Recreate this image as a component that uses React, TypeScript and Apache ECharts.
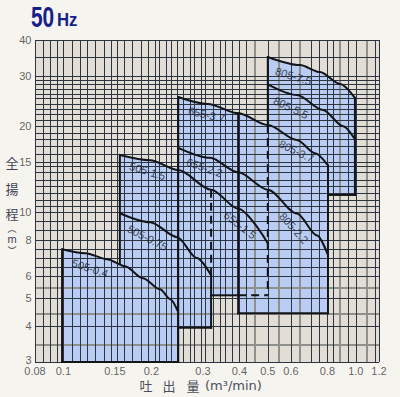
import React, { useEffect, useRef } from "react";
import * as echarts from "echarts";

const X_MIN = 0.08;
const X_MAX = 1.2;
const Y_MIN = 3;
const Y_MAX = 40;

// tick labels
const xTickLabels = ["0.08", "0.1", "0.15", "0.2", "0.3", "0.4", "0.5", "0.6", "0.8", "1.0", "1.2"];
const yTickLabels = ["3", "4", "5", "6", "8", "10", "15", "20", "30", "40"];

// grid rulings (flow m3/min, head m)
const xGridDark = [0.08, 0.085, 0.09, 0.095, 0.1, 0.107, 0.114, 0.12, 0.128, 0.138, 0.146, 0.152, 0.161, 0.172, 0.185, 0.194, 0.205, 0.213, 0.225, 0.234, 0.244, 0.256, 0.27, 0.28, 0.296, 0.306, 0.325, 0.343, 0.356, 0.378, 0.4, 0.42, 0.5, 0.6, 0.7, 0.75, 0.8, 0.835, 0.94, 1.0, 1.16, 1.2];
const xGridGray = [0.452, 0.546, 0.644, 0.883, 1.09];
const yGridDark = [3, 4, 5, 6, 6.45, 6.95, 7.45, 8, 8.65, 9.3, 10, 10.5, 11, 11.7, 12.4, 13, 13.8, 14.5, 15, 16, 17, 18, 19, 20, 21, 22, 23, 24, 25, 26, 27, 28, 29, 30, 35, 40];
const yGridGray = [3.45, 4.4, 5.45];

// pump curves [flow, head]
const curve505_04 = [[0.099, 7.43], [0.119, 7.2], [0.141, 6.86], [0.1625, 6.48], [0.187, 5.89], [0.214, 5.39], [0.232, 4.97], [0.247, 4.48]];
const curve505_075 = [[0.156, 9.93], [0.198, 9.24], [0.245, 8.19], [0.286, 6.92], [0.32, 6.03]];
const curve505_15 = [[0.156, 15.85], [0.198, 15.2], [0.247, 14.05], [0.32, 12.0]];
const curve655_15 = [[0.32, 12.0], [0.396, 10.3], [0.5, 7.8]];
const curve655_37 = [[0.247, 25.3], [0.312, 23.9], [0.396, 22.2], [0.5, 20.2]];
const curve805_37 = [[0.396, 22.2], [0.5, 20.2], [0.629, 17.9], [0.725, 16.1], [0.803, 14.6]];
const curve655_22 = [[0.247, 16.8], [0.317, 15.5], [0.396, 13.8], [0.5, 12.0]];
const curve805_22 = [[0.396, 13.8], [0.5, 12.0], [0.629, 9.9], [0.737, 8.3], [0.803, 7.1]];
const curve805_75 = [[0.5, 34.9], [0.644, 32.7], [0.754, 30.9], [0.883, 28.1], [0.993, 25.1]];
const curve805_55 = [[0.5, 28.0], [0.629, 25.7], [0.772, 22.8], [0.904, 20.0], [0.993, 18.0]];

// operating ranges: 505-0.4, 505, 655, 805 (low), 805 (high)
const rangeFlowMin = [0.099, 0.156, 0.247, 0.396, 0.5];
const rangeFlowMax = [0.247, 0.32, 0.5, 0.803, 0.993];
const rangeHeadMin = [3, 3.95, 5.13, 4.44, 11.5];

// curve labels
const curveLabelText = ["805-7.5", "805-5.5", "655-3.7", "805-3.7", "655-2.2", "655-1.5", "805-2.2", "505-1.5", "505-0.75", "505-0.4"];
const curveLabelFlow = [0.612, 0.6, 0.3086, 0.6267, 0.3038, 0.4018, 0.6144, 0.194, 0.194, 0.1234];
const curveLabelHead = [29.9, 23.2, 21.95, 16.37, 14.33, 9.02, 8.81, 13.93, 8.15, 6.38];
const curveLabelAngle = [-17, -25, -13, -26, -19, -38, -48, -17, -27, -18];

const merge = (a: number[][], b: number[][]) => a.concat(b.filter((p) => p[0] > a[a.length - 1][0]));

const topCurves = [curve505_04, curve505_15, curve655_37, curve805_37, curve805_75];
const regionPolys = topCurves.map((c, i) => [
  [rangeFlowMin[i], rangeHeadMin[i]],
  ...c,
  [rangeFlowMax[i], rangeHeadMin[i]],
]);

const solidEdges = [
  [rangeFlowMin[0], Y_MIN, rangeFlowMin[0], curve505_04[0][1]],
  [rangeFlowMin[0], Y_MIN, rangeFlowMax[0], Y_MIN],
  [rangeFlowMin[2], curve655_37[0][1], rangeFlowMax[0], Y_MIN],
  [rangeFlowMin[1], curve505_15[0][1], rangeFlowMin[1], 6.6],
  [rangeFlowMin[2], rangeHeadMin[1], rangeFlowMax[1], rangeHeadMin[1]],
  [rangeFlowMax[1], curve505_075[curve505_075.length - 1][1], rangeFlowMax[1], rangeHeadMin[1]],
  [rangeFlowMax[1], rangeHeadMin[2], rangeFlowMin[3], rangeHeadMin[2]],
  [rangeFlowMin[3], curve805_37[0][1], rangeFlowMin[3], rangeHeadMin[3]],
  [rangeFlowMin[3], rangeHeadMin[3], rangeFlowMax[3], rangeHeadMin[3]],
  [rangeFlowMax[3], curve805_37[curve805_37.length - 1][1], rangeFlowMax[3], rangeHeadMin[3]],
  [rangeFlowMin[4], curve805_75[0][1], rangeFlowMin[4], curve655_37[curve655_37.length - 1][1]],
  [rangeFlowMax[4], curve805_75[curve805_75.length - 1][1], rangeFlowMax[4], rangeHeadMin[4]],
  [rangeFlowMax[3], rangeHeadMin[4], rangeFlowMax[4], rangeHeadMin[4]],
];
const dashedEdges = [
  [rangeFlowMax[1], curve505_15[curve505_15.length - 1][1], rangeFlowMax[1], curve505_075[curve505_075.length - 1][1]],
  [rangeFlowMin[3], rangeHeadMin[2], rangeFlowMax[2], rangeHeadMin[2]],
  [rangeFlowMax[2], curve655_37[curve655_37.length - 1][1], rangeFlowMax[2], rangeHeadMin[2]],
];

const curveLines = [
  curve505_04,
  curve505_075,
  merge(curve505_15, curve655_15),
  merge(curve655_37, curve805_37),
  merge(curve655_22, curve805_22),
  curve805_75,
  curve805_55,
];

const LINE = "#121418";
const FONT = "'Liberation Sans', Arial, sans-serif";
const CJK = "'Noto Sans CJK JP', 'Noto Sans CJK SC', sans-serif";

function gridSeries(vals: number[], vertical: boolean, color: string, width: number, z: number) {
  return {
    type: "custom",
    z,
    silent: true,
    clip: false,
    data: vals.map((v) => (vertical ? [v, Y_MIN] : [X_MIN, v])),
    renderItem: (_p: any, api: any) => {
      const v = vertical ? api.value(0) : api.value(1);
      const a = api.coord(vertical ? [v, Y_MIN] : [X_MIN, v]);
      const b = api.coord(vertical ? [v, Y_MAX] : [X_MAX, v]);
      const off = width % 2 ? 0.5 : 0;
      if (vertical) {
        const x = Math.round(a[0]) + off;
        return { type: "line", shape: { x1: x, y1: a[1], x2: x, y2: b[1] }, style: { stroke: color, lineWidth: width } };
      }
      const y = Math.round(a[1]) + off;
      return { type: "line", shape: { x1: a[0], y1: y, x2: b[0], y2: y }, style: { stroke: color, lineWidth: width } };
    },
  };
}

function edgeSeries(edges: number[][], dashed: boolean) {
  return {
    type: "custom",
    z: 6,
    silent: true,
    clip: false,
    data: edges,
    encode: { x: [0, 2], y: [1, 3] },
    renderItem: (_p: any, api: any) => {
      const a = api.coord([api.value(0), api.value(1)]);
      const b = api.coord([api.value(2), api.value(3)]);
      return {
        type: "line",
        shape: { x1: a[0], y1: a[1], x2: b[0], y2: b[1] },
        style: { stroke: LINE, lineWidth: 2, lineDash: dashed ? [8, 5] : null, lineCap: dashed ? "butt" : "square" },
      };
    },
  };
}

function txt(text: string, x: number, y: number, size: number, family: string, fill: string, align = "center", scaleX = 1, bold = false) {
  return {
    type: "text",
    x,
    y,
    scaleX,
    silent: true,
    style: {
      text,
      font: `${bold ? "bold " : ""}${size}px ${family}`,
      lineHeight: size,
      fill,
      align,
      textAlign: align,
      verticalAlign: "middle",
      textVerticalAlign: "middle",
    },
  };
}

const option: any = {
  animation: false,
  backgroundColor: "#f6f4ef",
  grid: { left: 35, right: 21, top: 40, bottom: 35, show: true, backgroundColor: "#e3ded5", borderWidth: 0 },
  xAxis: {
    type: "log",
    logBase: 10,
    min: X_MIN,
    max: X_MAX,
    axisLine: { show: false },
    axisTick: { show: false },
    axisLabel: { show: false },
    splitLine: { show: false },
  },
  yAxis: {
    type: "log",
    logBase: 10,
    min: Y_MIN,
    max: Y_MAX,
    axisLine: { show: false },
    axisTick: { show: false },
    axisLabel: { show: false },
    splitLine: { show: false },
  },
  series: [
    {
      type: "custom",
      z: 1,
      silent: true,
      clip: false,
      data: regionPolys.map((p) => p[0]),
      renderItem: (params: any, api: any) => {
        const poly = regionPolys[params.dataIndex];
        return { type: "polygon", shape: { points: poly.map((p) => api.coord(p)) }, style: { fill: "#b9cdf4" } };
      },
    },
    gridSeries(xGridGray, true, "#8f8f8c", 2, 2),
    gridSeries(yGridGray, false, "#8f8f8c", 2, 2),
    gridSeries(xGridDark, true, "#2c3440", 1, 3),
    gridSeries(yGridDark, false, "#2c3440", 1, 3),
    edgeSeries(solidEdges, false),
    edgeSeries(dashedEdges, true),
    ...curveLines.map((c) => ({
      type: "line",
      z: 6,
      silent: true,
      data: c,
      smooth: 0.3,
      smoothMonotone: "x",
      symbol: "none",
      lineStyle: { color: LINE, width: 2 },
    })),
    {
      type: "scatter",
      z: 7,
      silent: true,
      clip: false,
      symbolSize: 1,
      itemStyle: { color: "rgba(0,0,0,0)" },
      data: curveLabelText.map((_t, i) => ({
        value: [curveLabelFlow[i], curveLabelHead[i]],
        label: { rotate: curveLabelAngle[i] },
      })),
      label: {
        show: true,
        position: "inside",
        formatter: (p: any) => curveLabelText[p.dataIndex],
        fontSize: 11,
        lineHeight: 11,
        fontFamily: FONT,
        color: "#161a2a",
      },
    },
    {
      type: "scatter",
      z: 7,
      silent: true,
      clip: false,
      symbolSize: 1,
      itemStyle: { color: "rgba(0,0,0,0)" },
      data: xTickLabels.map((s) => [parseFloat(s), Y_MIN]),
      label: {
        show: true,
        position: "bottom",
        distance: 3,
        formatter: (p: any) => xTickLabels[p.dataIndex],
        fontSize: 11,
        lineHeight: 10,
        fontFamily: FONT,
        color: "#3a3a3a",
      },
    },
    {
      type: "scatter",
      z: 7,
      silent: true,
      clip: false,
      symbolSize: 1,
      itemStyle: { color: "rgba(0,0,0,0)" },
      data: yTickLabels.map((s, i) => ({
        value: [X_MIN, parseFloat(s)],
        label: i === 0 ? { offset: [0, -2] } : {},
      })),
      label: {
        show: true,
        position: "left",
        distance: 3,
        formatter: (p: any) => yTickLabels[p.dataIndex],
        fontSize: 11,
        lineHeight: 10,
        fontFamily: FONT,
        color: "#3a3a3a",
      },
    },
  ],
  graphic: [
    txt("50", 31, 17, 29, "'Liberation Sans', Arial", "#16208a", "left", 0.72, true),
    txt("Hz", 57, 20, 19, "'Liberation Sans', Arial", "#16208a", "left", 0.88, true),
    txt("全", 12, 162, 13, CJK, "#3d4454"),
    txt("揚", 12, 188, 13, CJK, "#3d4454"),
    txt("程", 12, 213, 13, CJK, "#3d4454"),
    txt("︵", 12, 228, 9, CJK, "#3d4454"),
    txt("m", 12, 239, 11, FONT, "#3d4454"),
    txt("︶", 12, 250, 9, CJK, "#3d4454"),
    txt("吐", 146, 385, 13, CJK, "#4a4f5c"),
    txt("出", 169, 385, 13, CJK, "#4a4f5c"),
    txt("量", 193, 385, 13, CJK, "#4a4f5c"),
    txt("(m³/min)", 205, 385, 13, "'DejaVu Sans', sans-serif", "#4a4f5c", "left"),
  ],
};

export default function App() {
  const ref = useRef<HTMLDivElement>(null);
  useEffect(() => {
    if (!ref.current) return;
    const chart = echarts.init(ref.current, null, { renderer: "svg" });
    chart.setOption(option);
    return () => chart.dispose();
  }, []);
  return (
    <div
      ref={ref}
      style={{ position: "absolute", left: 0, top: 0, width: 400, height: 397, background: "#f6f4ef" }}
    />
  );
}
